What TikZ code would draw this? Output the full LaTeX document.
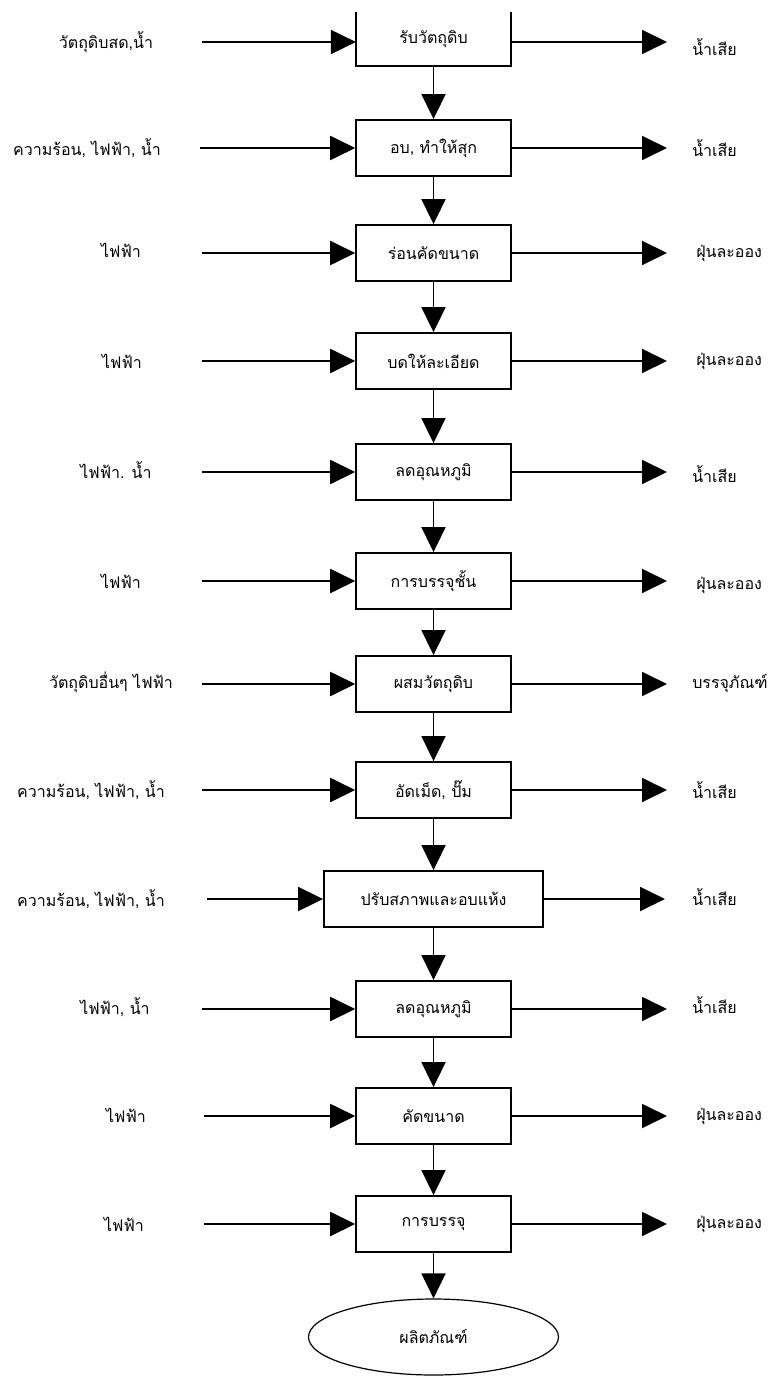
\documentclass[tikz,border=0pt]{standalone}
\usepackage{fontspec}
\newfontfamily\thaifont[Script=Thai]{Loma}
\usetikzlibrary{arrows.meta,shapes.geometric}
\begin{document}
\begin{tikzpicture}[x=0.75pt,y=-0.75pt,
  every node/.style={font=\thaifont\fontsize{12}{14}\selectfont, inner sep=0pt},
  procbox/.style={draw, line width=1.4pt, minimum width=116pt, minimum height=42pt},
  widebox/.style={procbox, minimum width=164.25pt},
  openbox/.style={minimum width=116pt, minimum height=39.75pt},
  endshape/.style={draw, ellipse, line width=0.9pt, minimum width=187.5pt, minimum height=57pt},
  inlabel/.style={},
  outlabel/.style={anchor=west},
  flow/.style={line width=1.4pt, -{Triangle[length=18.75pt,width=18pt]}},
]
\useasboundingbox (0,0) rectangle (779,1376);

% process boxes
\node[openbox]  (b1)  at (433.5,39)   {รับวัตถุดิบ};
\draw[line width=1.4pt] (b1.north west) -- (b1.south west) -- (b1.south east) -- (b1.north east);
\node[procbox]  (b2)  at (433.5,148)  {อบ, ทำให้สุก};
\node[procbox]  (b3)  at (433.5,253)  {ร่อนคัดขนาด};
\node[procbox]  (b4)  at (433.5,361)  {บดให้ละเอียด};
\node[procbox]  (b5)  at (433.5,472)  {ลดอุณหภูมิ};
\node[procbox]  (b6)  at (433.5,581)  {การบรรจุชั้น};
\node[procbox]  (b7)  at (433.5,684)  {ผสมวัตถุดิบ};
\node[procbox]  (b8)  at (433.5,790)  {อัดเม็ด, ปั๊ม};
\node[widebox]  (b9)  at (433.5,899)  {ปรับสภาพและอบแห้ง};
\node[procbox]  (b10) at (433.5,1009) {ลดอุณหภูมิ};
\node[procbox]  (b11) at (433.5,1116) {คัดขนาด};
\node[procbox]  (b12) at (433.5,1224) {การบรรจุ};
\node[endshape] (e)   at (433.5,1337) {ผลิตภัณฑ์};

% main flow
\draw[flow] (b1) -- (b2);
\draw[flow] (b2) -- (b3);
\draw[flow] (b3) -- (b4);
\draw[flow] (b4) -- (b5);
\draw[flow] (b5) -- (b6);
\draw[flow] (b6) -- (b7);
\draw[flow] (b7) -- (b8);
\draw[flow] (b8) -- (b9);
\draw[flow] (b9) -- (b10);
\draw[flow] (b10) -- (b11);
\draw[flow] (b11) -- (b12);
\draw[flow] (b12) -- (e);

% inputs
\node[inlabel] (l1)  at (106,42)   {วัตถุดิบสด,น้ำ};
\node[inlabel] (l2)  at (87,148)   {ความร้อน, ไฟฟ้า, น้ำ};
\node[inlabel] (l3)  at (121,250)  {ไฟฟ้า};
\node[inlabel] (l4)  at (122,361)  {ไฟฟ้า};
\node[inlabel] (l5)  at (116,470)  {ไฟฟ้า. น้ำ};
\node[inlabel] (l6)  at (121,581)  {ไฟฟ้า};
\node[inlabel] (l7)  at (111,682)  {วัตถุดิบอื่นๆ ไฟฟ้า};
\node[inlabel] (l8)  at (91,790)   {ความร้อน, ไฟฟ้า, น้ำ};
\node[inlabel] (l9)  at (91,899)   {ความร้อน, ไฟฟ้า, น้ำ};
\node[inlabel] (l10) at (115,1007) {ไฟฟ้า, น้ำ};
\node[inlabel] (l11) at (126,1115) {ไฟฟ้า};
\node[inlabel] (l12) at (124,1224) {ไฟฟ้า};

\coordinate (i1)  at (202,42);
\coordinate (i2)  at (200,148);
\coordinate (i3)  at (202,253);
\coordinate (i4)  at (202,361);
\coordinate (i5)  at (202,472);
\coordinate (i6)  at (202,581);
\coordinate (i7)  at (202,684);
\coordinate (i8)  at (202,790);
\coordinate (i9)  at (207,899);
\coordinate (i10) at (202,1009);
\coordinate (i11) at (204,1116);
\coordinate (i12) at (204,1224);

\draw[flow] (i1) -- (b1.west |- i1);
\draw[flow] (i2) -- (b2);
\draw[flow] (i3) -- (b3);
\draw[flow] (i4) -- (b4);
\draw[flow] (i5) -- (b5);
\draw[flow] (i6) -- (b6);
\draw[flow] (i7) -- (b7);
\draw[flow] (i8) -- (b8);
\draw[flow] (i9) -- (b9);
\draw[flow] (i10) -- (b10);
\draw[flow] (i11) -- (b11);
\draw[flow] (i12) -- (b12);

% outputs
\coordinate (o1)  at (667,42);
\coordinate (o2)  at (667,148);
\coordinate (o3)  at (667,253);
\coordinate (o4)  at (667,361);
\coordinate (o5)  at (667,472);
\coordinate (o6)  at (667,581);
\coordinate (o7)  at (667,684);
\coordinate (o8)  at (667,790);
\coordinate (o9)  at (665,899);
\coordinate (o10) at (667,1009);
\coordinate (o11) at (667,1116);
\coordinate (o12) at (667,1224);

\draw[flow] (b1.east |- o1) -- (o1);
\draw[flow] (b2) -- (o2);
\draw[flow] (b3) -- (o3);
\draw[flow] (b4) -- (o4);
\draw[flow] (b5) -- (o5);
\draw[flow] (b6) -- (o6);
\draw[flow] (b7) -- (o7);
\draw[flow] (b8) -- (o8);
\draw[flow] (b9) -- (o9);
\draw[flow] (b10) -- (o10);
\draw[flow] (b11) -- (o11);
\draw[flow] (b12) -- (o12);

\node[outlabel] (r1)  at (692,47)   {น้ำเสีย};
\node[outlabel] (r2)  at (692,148)  {น้ำเสีย};
\node[outlabel] (r3)  at (696,253)  {ฝุ่นละออง};
\node[outlabel] (r4)  at (696,361)  {ฝุ่นละออง};
\node[outlabel] (r5)  at (692,474)  {น้ำเสีย};
\node[outlabel] (r6)  at (696,585)  {ฝุ่นละออง};
\node[outlabel] (r7)  at (692,684)  {บรรจุภัณฑ์};
\node[outlabel] (r8)  at (692,790)  {น้ำเสีย};
\node[outlabel] (r9)  at (692,897)  {น้ำเสีย};
\node[outlabel] (r10) at (692,1005) {น้ำเสีย};
\node[outlabel] (r11) at (696,1116) {ฝุ่นละออง};
\node[outlabel] (r12) at (696,1224) {ฝุ่นละออง};
\end{tikzpicture}
\end{document}
